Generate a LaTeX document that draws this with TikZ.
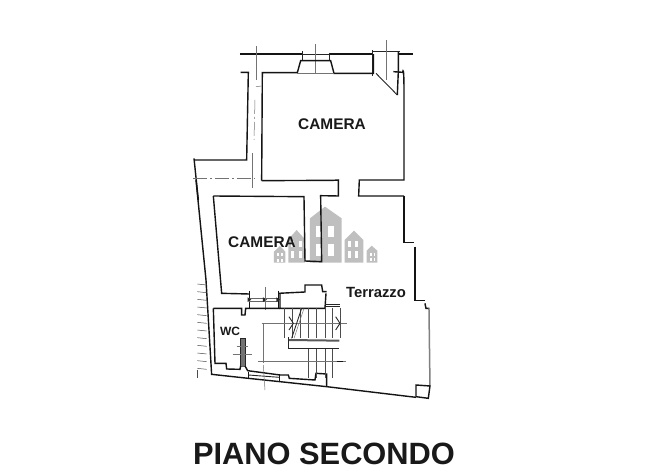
\documentclass[tikz,border=0pt]{standalone}
\usepackage{fontspec}
\setmainfont{Liberation Sans}
\tikzset{
  zone/.style={x=0.3333pt,y=-0.3333pt,shift={(180pt,-#1pt)}},
  wall/.style={line width=1.4pt,black!92,line join=miter},
  thinwall/.style={line width=0.9pt,black!85},
  fine/.style={line width=0.5pt,black!70},
  axis/.style={line width=0.5pt,black!55},
  axisdash/.style={axis,dash pattern=on 14pt off 3pt on 2pt off 3pt},
  house/.style={fill=black!25,draw=none},
  win/.style={fill=white,draw=none},
  lab/.style={font=\bfseries,text=black!90,inner sep=0pt,anchor=center}
}
\begin{document}
\begin{tikzpicture}[x=1pt,y=-1pt]
\useasboundingbox (0,0) rectangle (650,472);
\fill[white] (0,0) rectangle (650,472);
% watermark (zoom 2 coordinates)
\begin{scope}[zone=180]
\fill[house] (390,115)--(435,80)--(485,115)--(485,248)--(390,248)--cycle;
\fill[house] (325,178)--(350,150)--(375,178)--(375,248)--(325,248)--cycle;
\fill[house] (282,215)--(300,198)--(316,215)--(316,248)--(282,248)--cycle;
\fill[house] (494,180)--(522,152)--(550,180)--(550,248)--(494,248)--cycle;
\fill[house] (560,212)--(575,197)--(592,212)--(592,248)--(560,248)--cycle;
\foreach \x/\y in {407/137,445/137,407/192,445/192}{\fill[win] (\x,\y) rectangle ++(16,35);}
\foreach \x/\y in {333/182,356/182,333/214,356/214,503/182,525/182,503/214,525/214}{\fill[win] (\x,\y) rectangle ++(9,20);}
\foreach \x/\y in {292/220,304/220,570/218,581/218,292/236,304/236,570/234,581/234}{\fill[win] (\x,\y) rectangle ++(5,9);}
\end{scope}
% upper part (zoom 1 coordinates)
\begin{scope}[zone=30]
\draw[wall] (180,72)--(368,72) (448,72)--(580,72) (655,72)--(698,72);
\draw[thinwall] (368,72)--(448,72) (580,65)--(660,65);
\draw[thinwall] (368,64)--(368,92) (448,68)--(448,92) (578,60)--(578,138);
\draw[axis] (228,48)--(228,150) (406,42)--(406,132) (618,30)--(618,150);
\draw[wall] (182,127)--(205,127)--(200,390)--(42,390);
\draw[wall] (42,385)--(55,510);
\draw[wall] (245,452)--(247,128)--(352,128)--(362,92)--(452,92)--(462,130)--(580,130)--(580,72);
\draw[axis] (352,131)--(462,131);
\draw[thinwall] (588,130)--(652,195);
\draw[wall] (655,66)--(655,125)--(652,195);
\draw[wall] (640,125)--(668,127) to[out=80,in=90] (672,180)--(672,450)--(538,450)--(536,498)--(672,498);
\draw[wall] (245,452)--(460,451)--(475,450)--(475,498)--(420,497);
\draw[axisdash] (40,445)--(225,445);
\draw[axis] (228,170)--(245,168);
\draw[axisdash] (225,210)--(222,330);
\draw[axis] (218,370)--(218,475);
\end{scope}
% middle part (zoom 2 coordinates)
\begin{scope}[zone=180]
\draw[wall] (100,48)--(372,50)--(375,243)--(425,245)--(422,47);
\draw[wall] (100,48)--(125,340)--(208,342);
\draw[wall] (48,0)--(78,300);
\draw[wall] (295,340)--(375,336)--(375,315)--(425,315)--(428,335)--(440,335);
\draw[wall] (672,47)--(672,188)--(703,188);
\draw[wall] (705,200)--(705,362)--(735,362);
\draw[wall] (208,332)--(208,385) (295,332)--(295,385);
\draw[thinwall,black!60] (208,355)--(295,355) (208,363)--(295,363);
\fill[black!85] (203,352)--(214,359)--(203,366)--cycle (249,352)--(261,359)--(249,366)--cycle (289,352)--(300,359)--(289,366)--cycle;
\draw[axis] (255,320)--(255,390);
\end{scope}
% lower part (zoom 3 coordinates)
\begin{scope}[zone=280]
\draw[wall] (78,0)--(95,285);
\foreach \y in {12,35,58,81,104,127,150,173,196,219,242,265}{\draw[fine] (52,\y)--(80,\y+3);}
\draw[fine] (52,270)--(52,295);
\draw[wall] (95,283)--(205,295)--(300,305)--(440,320)--(708,352);
\draw[wall] (300,40)--(300,85)--(435,85)--(438,40);
\draw[wall] (100,85)--(185,85)--(185,105)--(195,105)--(197,85)--(300,85);
\draw[wall] (100,85)--(105,250)--(138,250)--(140,267)--(180,268)--(182,258)--(195,258)--(203,272)--(300,285);
\fill[black!55] (182,175) rectangle (195,258);
\draw[thinwall] (182,175)--(195,175) (182,175)--(182,258) (195,175)--(195,258);
\draw[axis] (158,224)--(215,224) (170,198)--(205,198);
\draw[wall] (205,275)--(205,297) (298,282)--(298,305);
\draw[thinwall] (205,285)--(298,292);
\draw[axis] (250,255)--(255,330);
\draw[wall] (300,285)--(325,285)--(328,295)--(405,300)--(408,280)--(440,282)--(440,320);
% terrace edge
\draw[wall] (735,70)--(738,85)--(748,85);
\draw[line width=1.5pt,black!50] (747,85)--(750,318);
\draw[wall] (708,315)--(750,318)--(745,355)--(708,350)--cycle;
\draw[thinwall] (436,72)--(480,72) (436,80)--(480,80);
% stairs
\foreach \x in {313,337,360,385,410,435,458,482}{\draw[fine] (\x,85)--(\x,175);}
\foreach \x in {385,410,435,458}{\draw[fine] (\x,205)--(\x,295);}
\draw[line width=2pt,black!65] (325,180)--(478,182);
\draw[thinwall] (325,172)--(325,205)--(478,205);
\draw[axis] (245,130)--(500,130) (235,245)--(498,245) (250,130)--(250,250);
\draw[thinwall] (365,85)--(335,175);
\draw[axis] (372,85)--(342,175);
\draw[thinwall] (327,110)--(340,130)--(327,150) (467,110)--(480,130)--(467,150);
\draw[wall] (470,245)--(490,245);
\end{scope}
\node[lab,font=\bfseries\fontsize{15.4}{16}\selectfont] (cam1) at (332,124) {CAMERA};
\node[lab,font=\bfseries\fontsize{15.4}{16}\selectfont] (cam2) at (262,242) {CAMERA};
\node[lab,font=\bfseries\fontsize{14.8}{16}\selectfont] (ter) at (376,292) {Terrazzo};
\node[lab,font=\bfseries\fontsize{12}{14}\selectfont] (wc) at (230,331) {WC};
\node[lab,font=\bfseries\fontsize{30.8}{32}\selectfont] (title) at (324,454) {PIANO SECONDO};
\end{tikzpicture}
\end{document}
